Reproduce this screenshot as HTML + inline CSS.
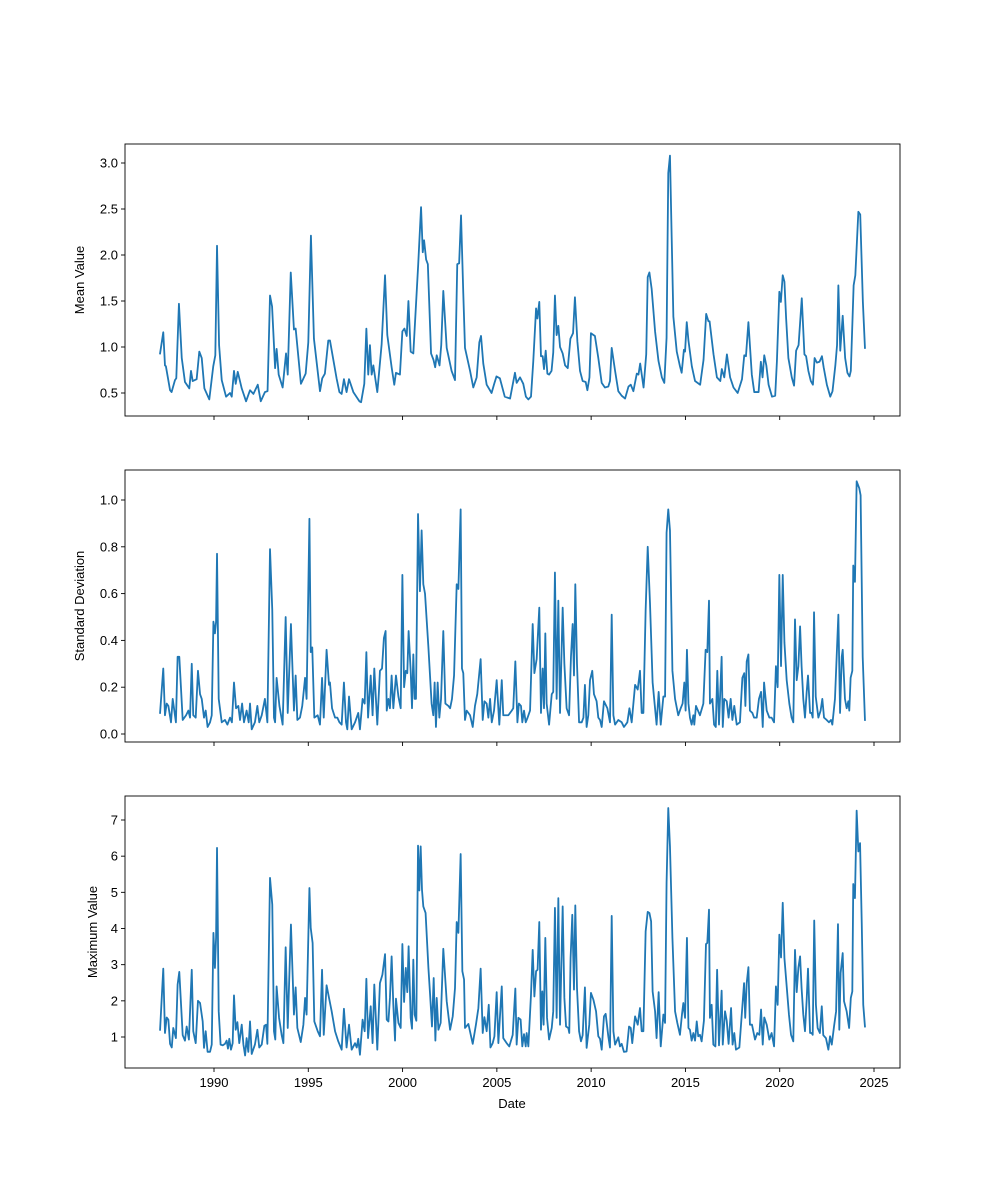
<!DOCTYPE html>
<html>
<head>
<meta charset="utf-8">
<style>
  html, body { margin: 0; padding: 0; background: #ffffff; }
  svg { display: block; font-family: "Liberation Sans", "DejaVu Sans", sans-serif; }
</style>
</head>
<body>
<svg id="chart" width="1000" height="1200" viewBox="0 0 1000 1200" xmlns="http://www.w3.org/2000/svg">
  <rect x="0" y="0" width="1000" height="1200" fill="#ffffff"/>
</svg>
<script>
// ---- data: [decimal year, value] ----
const meanSeries = [[1987.14,0.93],[1987.31,1.16],[1987.40,0.80],[1987.45,0.79],[1987.67,0.53],[1987.75,0.51],[1987.93,0.64],[1988.0,0.66],[1988.14,1.47],[1988.29,0.88],[1988.46,0.62],[1988.69,0.55],[1988.78,0.74],[1988.87,0.63],[1989.08,0.65],[1989.22,0.95],[1989.35,0.88],[1989.49,0.55],[1989.75,0.43],[1989.96,0.79],[1990.07,0.91],[1990.16,2.10],[1990.27,1.02],[1990.41,0.64],[1990.64,0.46],[1990.85,0.50],[1990.94,0.46],[1991.06,0.74],[1991.15,0.60],[1991.26,0.73],[1991.47,0.55],[1991.70,0.41],[1991.91,0.53],[1992.09,0.49],[1992.32,0.59],[1992.48,0.41],[1992.70,0.51],[1992.84,0.52],[1992.97,1.56],[1993.08,1.44],[1993.24,0.77],[1993.32,0.98],[1993.43,0.70],[1993.64,0.56],[1993.82,0.93],[1993.91,0.70],[1994.07,1.81],[1994.24,1.19],[1994.33,1.20],[1994.61,0.60],[1994.86,0.71],[1995.0,1.05],[1995.14,2.21],[1995.30,1.09],[1995.62,0.52],[1995.74,0.66],[1995.88,0.71],[1996.06,1.07],[1996.15,1.07],[1996.50,0.66],[1996.65,0.51],[1996.77,0.49],[1996.89,0.65],[1997.03,0.51],[1997.16,0.65],[1997.39,0.51],[1997.71,0.41],[1997.80,0.40],[1997.97,0.60],[1998.08,1.20],[1998.18,0.70],[1998.27,1.02],[1998.36,0.70],[1998.45,0.80],[1998.66,0.51],[1998.89,1.03],[1999.07,1.78],[1999.19,1.13],[1999.42,0.78],[1999.56,0.59],[1999.65,0.72],[1999.86,0.70],[1999.99,1.17],[2000.10,1.20],[2000.22,1.12],[2000.31,1.50],[2000.43,0.95],[2000.57,0.93],[2000.83,1.90],[2000.98,2.52],[2001.07,2.03],[2001.14,2.16],[2001.25,1.95],[2001.34,1.90],[2001.51,0.93],[2001.64,0.86],[2001.73,0.78],[2001.81,0.91],[2001.96,0.80],[2002.05,1.02],[2002.16,1.61],[2002.34,0.99],[2002.60,0.74],[2002.78,0.64],[2002.90,1.90],[2003.0,1.91],[2003.10,2.43],[2003.22,1.58],[2003.31,0.99],[2003.58,0.74],[2003.75,0.56],[2003.93,0.67],[2004.07,1.05],[2004.16,1.12],[2004.28,0.82],[2004.46,0.59],[2004.72,0.50],[2004.86,0.60],[2004.98,0.68],[2005.16,0.66],[2005.42,0.46],[2005.70,0.44],[2005.96,0.72],[2006.05,0.61],[2006.23,0.67],[2006.40,0.60],[2006.54,0.46],[2006.67,0.43],[2006.81,0.46],[2006.93,0.84],[2007.08,1.42],[2007.15,1.31],[2007.25,1.49],[2007.34,0.90],[2007.43,0.90],[2007.50,0.76],[2007.59,0.96],[2007.68,0.71],[2007.77,0.70],[2007.90,0.74],[2007.99,0.94],[2008.08,1.56],[2008.17,1.13],[2008.26,1.23],[2008.35,1.0],[2008.49,0.93],[2008.62,0.80],[2008.76,0.77],[2008.90,1.09],[2009.04,1.15],[2009.14,1.54],[2009.27,1.06],[2009.41,0.74],[2009.55,0.63],[2009.71,0.62],[2009.80,0.53],[2009.91,0.67],[2009.99,1.15],[2010.20,1.12],[2010.38,0.88],[2010.56,0.61],[2010.73,0.56],[2010.91,0.57],[2011.0,0.63],[2011.09,0.99],[2011.27,0.74],[2011.44,0.52],[2011.62,0.47],[2011.80,0.44],[2011.98,0.57],[2012.10,0.59],[2012.24,0.52],[2012.42,0.71],[2012.51,0.70],[2012.60,0.82],[2012.78,0.56],[2012.92,0.92],[2013.0,1.76],[2013.09,1.81],[2013.21,1.63],[2013.39,1.17],[2013.57,0.85],[2013.75,0.67],[2013.88,0.61],[2014.0,1.10],[2014.09,2.89],[2014.18,3.08],[2014.27,2.20],[2014.36,1.33],[2014.54,0.95],[2014.71,0.79],[2014.80,0.72],[2014.92,0.97],[2014.98,0.95],[2015.07,1.27],[2015.16,1.07],[2015.34,0.79],[2015.51,0.63],[2015.78,0.59],[2015.96,0.86],[2016.10,1.36],[2016.22,1.28],[2016.28,1.28],[2016.49,0.92],[2016.67,0.67],[2016.85,0.63],[2016.93,0.76],[2017.06,0.67],[2017.20,0.92],[2017.37,0.67],[2017.55,0.56],[2017.77,0.50],[2018.0,0.65],[2018.12,0.91],[2018.21,0.90],[2018.34,1.27],[2018.52,0.70],[2018.65,0.51],[2018.88,0.51],[2019.0,0.84],[2019.09,0.67],[2019.18,0.91],[2019.29,0.80],[2019.41,0.59],[2019.59,0.46],[2019.76,0.47],[2019.85,0.84],[2019.98,1.60],[2020.06,1.49],[2020.16,1.78],[2020.25,1.71],[2020.34,1.31],[2020.46,0.88],[2020.64,0.67],[2020.76,0.58],[2020.87,0.96],[2021.0,1.02],[2021.17,1.53],[2021.31,0.92],[2021.40,0.90],[2021.52,0.74],[2021.65,0.63],[2021.76,0.59],[2021.85,0.88],[2021.97,0.83],[2022.11,0.84],[2022.24,0.90],[2022.33,0.78],[2022.50,0.59],[2022.68,0.46],[2022.80,0.52],[2022.95,0.80],[2023.04,1.02],[2023.11,1.67],[2023.21,0.96],[2023.34,1.34],[2023.47,0.88],[2023.59,0.72],[2023.70,0.68],[2023.77,0.74],[2023.92,1.67],[2024.01,1.78],[2024.17,2.47],[2024.27,2.44],[2024.41,1.49],[2024.52,0.99]];

const stdSeries = [[1987.14,0.09],[1987.31,0.28],[1987.40,0.08],[1987.49,0.13],[1987.58,0.12],[1987.72,0.05],[1987.81,0.15],[1987.98,0.05],[1988.07,0.33],[1988.16,0.33],[1988.34,0.06],[1988.52,0.08],[1988.64,0.10],[1988.73,0.07],[1988.82,0.30],[1988.90,0.08],[1989.03,0.07],[1989.15,0.27],[1989.26,0.17],[1989.35,0.15],[1989.47,0.07],[1989.56,0.10],[1989.66,0.03],[1989.79,0.05],[1989.88,0.08],[1989.97,0.48],[1990.05,0.43],[1990.11,0.48],[1990.16,0.77],[1990.25,0.15],[1990.41,0.05],[1990.58,0.06],[1990.71,0.04],[1990.85,0.07],[1990.95,0.05],[1991.06,0.22],[1991.17,0.11],[1991.29,0.12],[1991.38,0.06],[1991.49,0.13],[1991.59,0.05],[1991.73,0.10],[1991.84,0.05],[1991.91,0.13],[1992.0,0.02],[1992.17,0.05],[1992.30,0.12],[1992.40,0.05],[1992.53,0.08],[1992.70,0.15],[1992.83,0.05],[1992.97,0.79],[1993.09,0.53],[1993.18,0.07],[1993.24,0.05],[1993.32,0.24],[1993.47,0.12],[1993.64,0.04],[1993.80,0.50],[1993.91,0.09],[1994.08,0.47],[1994.24,0.10],[1994.33,0.25],[1994.42,0.06],[1994.56,0.07],[1994.68,0.12],[1994.83,0.24],[1994.91,0.15],[1995.06,0.92],[1995.13,0.35],[1995.21,0.37],[1995.32,0.07],[1995.50,0.08],[1995.62,0.04],[1995.73,0.24],[1995.82,0.07],[1995.97,0.36],[1996.10,0.21],[1996.15,0.22],[1996.26,0.11],[1996.42,0.07],[1996.54,0.07],[1996.65,0.05],[1996.77,0.04],[1996.89,0.22],[1997.0,0.05],[1997.07,0.02],[1997.16,0.16],[1997.30,0.02],[1997.48,0.05],[1997.65,0.09],[1997.74,0.02],[1997.88,0.15],[1997.99,0.13],[1998.08,0.35],[1998.17,0.07],[1998.31,0.25],[1998.41,0.08],[1998.50,0.28],[1998.66,0.04],[1998.80,0.27],[1998.91,0.28],[1999.01,0.41],[1999.10,0.44],[1999.16,0.10],[1999.25,0.15],[1999.33,0.11],[1999.42,0.25],[1999.51,0.11],[1999.65,0.25],[1999.78,0.16],[1999.90,0.11],[1999.99,0.68],[2000.08,0.20],[2000.17,0.27],[2000.25,0.26],[2000.32,0.44],[2000.43,0.27],[2000.50,0.11],[2000.57,0.34],[2000.64,0.15],[2000.71,0.15],[2000.82,0.94],[2000.92,0.61],[2001.01,0.87],[2001.10,0.64],[2001.19,0.60],[2001.37,0.37],[2001.54,0.13],[2001.63,0.08],[2001.70,0.22],[2001.77,0.03],[2001.86,0.22],[2001.95,0.07],[2002.04,0.15],[2002.16,0.44],[2002.27,0.13],[2002.43,0.12],[2002.52,0.11],[2002.62,0.15],[2002.73,0.25],[2002.87,0.64],[2002.96,0.62],[2003.08,0.96],[2003.15,0.28],[2003.22,0.26],[2003.31,0.06],[2003.40,0.10],[2003.58,0.08],[2003.72,0.03],[2003.84,0.12],[2003.96,0.17],[2004.14,0.32],[2004.25,0.06],[2004.34,0.14],[2004.46,0.13],[2004.55,0.07],[2004.64,0.15],[2004.73,0.05],[2004.85,0.10],[2004.99,0.23],[2005.13,0.04],[2005.26,0.23],[2005.34,0.08],[2005.61,0.08],[2005.79,0.10],[2005.87,0.11],[2005.98,0.31],[2006.09,0.05],[2006.17,0.13],[2006.28,0.12],[2006.35,0.05],[2006.44,0.10],[2006.53,0.05],[2006.63,0.07],[2006.76,0.10],[2006.90,0.47],[2006.99,0.26],[2007.11,0.32],[2007.25,0.54],[2007.34,0.09],[2007.43,0.28],[2007.50,0.11],[2007.57,0.43],[2007.64,0.13],[2007.77,0.04],[2007.91,0.17],[2007.99,0.18],[2008.08,0.69],[2008.17,0.15],[2008.26,0.57],[2008.35,0.09],[2008.49,0.54],[2008.58,0.30],[2008.70,0.11],[2008.83,0.08],[2008.93,0.33],[2009.02,0.47],[2009.09,0.25],[2009.16,0.64],[2009.25,0.30],[2009.36,0.05],[2009.50,0.05],[2009.59,0.07],[2009.67,0.21],[2009.76,0.03],[2009.85,0.08],[2009.94,0.23],[2010.06,0.27],[2010.15,0.17],[2010.29,0.14],[2010.38,0.07],[2010.47,0.06],[2010.56,0.03],[2010.68,0.14],[2010.86,0.11],[2011.0,0.05],[2011.09,0.51],[2011.18,0.08],[2011.27,0.04],[2011.44,0.06],[2011.62,0.05],[2011.74,0.03],[2011.92,0.05],[2012.03,0.11],[2012.15,0.05],[2012.33,0.21],[2012.47,0.19],[2012.59,0.27],[2012.68,0.09],[2012.77,0.09],[2012.89,0.53],[2013.0,0.80],[2013.12,0.56],[2013.26,0.22],[2013.47,0.04],[2013.58,0.18],[2013.69,0.04],[2013.83,0.16],[2013.92,0.16],[2014.0,0.86],[2014.09,0.96],[2014.18,0.87],[2014.31,0.27],[2014.45,0.15],[2014.62,0.08],[2014.75,0.11],[2014.85,0.13],[2014.94,0.22],[2015.01,0.10],[2015.08,0.36],[2015.16,0.13],[2015.24,0.07],[2015.33,0.04],[2015.42,0.08],[2015.47,0.04],[2015.56,0.12],[2015.77,0.08],[2015.95,0.13],[2016.07,0.36],[2016.16,0.35],[2016.25,0.57],[2016.30,0.13],[2016.43,0.15],[2016.52,0.04],[2016.61,0.03],[2016.69,0.27],[2016.78,0.04],[2016.92,0.33],[2016.98,0.03],[2017.06,0.15],[2017.19,0.14],[2017.29,0.07],[2017.40,0.15],[2017.49,0.06],[2017.59,0.12],[2017.72,0.04],[2017.89,0.05],[2018.02,0.24],[2018.12,0.26],[2018.18,0.12],[2018.25,0.31],[2018.34,0.34],[2018.42,0.10],[2018.55,0.09],[2018.64,0.07],[2018.78,0.07],[2018.90,0.15],[2019.01,0.18],[2019.10,0.03],[2019.17,0.22],[2019.31,0.10],[2019.45,0.07],[2019.57,0.07],[2019.70,0.05],[2019.80,0.29],[2019.89,0.20],[2019.98,0.68],[2020.07,0.29],[2020.16,0.68],[2020.25,0.39],[2020.37,0.23],[2020.51,0.13],[2020.63,0.07],[2020.72,0.05],[2020.81,0.49],[2020.90,0.23],[2020.99,0.29],[2021.08,0.46],[2021.16,0.29],[2021.25,0.15],[2021.34,0.07],[2021.43,0.18],[2021.50,0.25],[2021.61,0.09],[2021.69,0.09],[2021.75,0.07],[2021.82,0.52],[2021.91,0.16],[2022.05,0.07],[2022.17,0.10],[2022.26,0.15],[2022.35,0.07],[2022.49,0.06],[2022.61,0.05],[2022.72,0.06],[2022.79,0.04],[2022.93,0.15],[2023.02,0.33],[2023.11,0.51],[2023.20,0.09],[2023.29,0.33],[2023.34,0.36],[2023.46,0.15],[2023.55,0.11],[2023.64,0.14],[2023.69,0.10],[2023.76,0.24],[2023.85,0.27],[2023.90,0.72],[2023.99,0.65],[2024.08,1.08],[2024.22,1.05],[2024.29,1.02],[2024.40,0.33],[2024.52,0.06]];

const maxSeries = [[1987.14,1.20],[1987.31,2.89],[1987.40,1.11],[1987.49,1.54],[1987.58,1.48],[1987.67,0.81],[1987.76,0.71],[1987.84,1.25],[1987.98,0.97],[1988.07,2.45],[1988.16,2.80],[1988.34,1.05],[1988.46,0.90],[1988.55,1.29],[1988.67,0.93],[1988.82,2.86],[1988.90,1.16],[1989.03,0.83],[1989.15,2.00],[1989.26,1.94],[1989.40,1.43],[1989.47,0.70],[1989.56,1.16],[1989.66,0.59],[1989.79,0.59],[1989.88,0.79],[1989.97,3.88],[1990.05,2.91],[1990.11,3.74],[1990.16,6.23],[1990.25,1.71],[1990.35,0.79],[1990.46,0.77],[1990.58,0.81],[1990.67,0.90],[1990.74,0.68],[1990.81,0.95],[1990.90,0.65],[1990.99,0.83],[1991.06,2.15],[1991.15,1.20],[1991.24,1.41],[1991.34,0.83],[1991.47,1.34],[1991.56,0.79],[1991.65,0.49],[1991.73,0.97],[1991.82,0.59],[1991.91,1.43],[1992.0,0.53],[1992.17,0.79],[1992.30,1.20],[1992.40,0.71],[1992.53,0.79],[1992.67,1.31],[1992.76,1.34],[1992.83,0.81],[1992.97,5.40],[1993.09,4.66],[1993.18,1.16],[1993.25,0.93],[1993.32,2.40],[1993.45,1.53],[1993.59,1.05],[1993.68,0.83],[1993.80,3.48],[1993.91,1.25],[1994.08,4.11],[1994.24,1.62],[1994.33,2.37],[1994.42,1.25],[1994.60,0.86],[1994.74,1.34],[1994.83,2.08],[1994.91,1.62],[1995.06,5.12],[1995.13,4.01],[1995.23,3.60],[1995.32,1.43],[1995.50,1.16],[1995.62,1.02],[1995.73,2.86],[1995.82,1.06],[1995.97,2.43],[1996.10,2.08],[1996.24,1.71],[1996.42,1.16],[1996.59,0.88],[1996.77,0.65],[1996.89,1.78],[1997.03,0.71],[1997.16,1.34],[1997.30,0.65],[1997.48,0.83],[1997.57,0.71],[1997.65,0.95],[1997.74,0.51],[1997.88,1.48],[1997.99,1.16],[1998.08,2.61],[1998.17,0.97],[1998.31,1.85],[1998.41,0.83],[1998.50,2.45],[1998.66,0.65],[1998.80,2.49],[1998.93,2.72],[1999.07,3.29],[1999.16,1.48],[1999.25,1.43],[1999.33,2.08],[1999.42,3.23],[1999.51,1.89],[1999.60,0.90],[1999.65,2.06],[1999.78,1.39],[1999.90,1.25],[1999.99,3.57],[2000.08,1.97],[2000.17,2.91],[2000.25,2.24],[2000.32,3.51],[2000.43,1.53],[2000.50,1.23],[2000.57,3.14],[2000.64,1.62],[2000.73,1.45],[2000.82,6.29],[2000.89,5.05],[2000.96,6.27],[2001.03,5.07],[2001.10,4.61],[2001.22,4.43],[2001.37,2.91],[2001.46,2.17],[2001.56,1.29],[2001.65,2.63],[2001.74,0.90],[2001.81,2.08],[2001.90,1.20],[2002.02,1.39],[2002.16,3.44],[2002.34,1.99],[2002.52,1.20],[2002.66,1.57],[2002.78,2.35],[2002.87,4.18],[2002.96,3.88],[2003.08,6.06],[2003.17,2.82],[2003.26,2.59],[2003.31,1.25],[2003.49,1.36],[2003.72,0.81],[2003.89,1.34],[2004.02,1.80],[2004.14,2.89],[2004.25,1.11],[2004.34,1.55],[2004.46,1.16],[2004.57,1.89],[2004.66,0.71],[2004.78,0.83],[2004.87,1.02],[2004.99,2.24],[2005.08,0.83],[2005.26,2.40],[2005.34,0.97],[2005.52,0.83],[2005.66,0.74],[2005.84,1.06],[2005.98,2.34],[2006.05,0.79],[2006.14,1.53],[2006.26,1.48],[2006.35,0.74],[2006.44,1.08],[2006.53,0.74],[2006.58,1.11],[2006.67,0.74],[2006.81,2.17],[2006.90,3.41],[2006.99,2.12],[2007.08,2.82],[2007.16,2.86],[2007.25,4.18],[2007.34,1.20],[2007.41,2.26],[2007.48,1.34],[2007.57,3.74],[2007.66,1.53],[2007.77,0.93],[2007.91,1.25],[2007.99,1.71],[2008.08,4.57],[2008.17,1.53],[2008.26,4.84],[2008.35,1.34],[2008.49,4.61],[2008.58,2.08],[2008.67,1.29],[2008.79,1.25],[2008.84,1.11],[2008.91,3.18],[2009.00,4.38],[2009.09,2.31],[2009.16,4.64],[2009.25,2.35],[2009.36,1.16],[2009.46,0.88],[2009.55,1.05],[2009.67,2.37],[2009.76,0.70],[2009.90,1.34],[2009.99,2.22],[2010.12,2.03],[2010.26,1.71],[2010.38,1.02],[2010.47,0.95],[2010.56,0.65],[2010.68,1.57],[2010.77,1.64],[2010.91,1.02],[2011.0,0.71],[2011.09,4.35],[2011.18,1.16],[2011.27,0.79],[2011.44,0.99],[2011.53,0.74],[2011.62,0.81],[2011.74,0.59],[2011.88,0.60],[2012.01,1.29],[2012.10,1.25],[2012.18,0.83],[2012.33,1.57],[2012.47,1.34],[2012.59,1.80],[2012.68,1.16],[2012.77,1.16],[2012.89,3.92],[2013.0,4.46],[2013.09,4.43],[2013.18,4.20],[2013.26,2.26],[2013.39,1.71],[2013.47,0.97],[2013.58,2.24],[2013.69,0.74],[2013.83,1.62],[2013.92,1.39],[2014.0,5.26],[2014.09,7.33],[2014.18,6.27],[2014.31,3.74],[2014.45,1.71],[2014.57,1.39],[2014.71,1.06],[2014.82,1.64],[2014.89,1.94],[2014.98,1.53],[2015.08,3.74],[2015.16,1.25],[2015.24,1.20],[2015.33,0.90],[2015.42,1.11],[2015.51,0.90],[2015.60,1.43],[2015.68,1.02],[2015.77,1.06],[2015.86,0.88],[2015.98,1.45],[2016.09,3.57],[2016.16,3.60],[2016.25,4.52],[2016.30,1.53],[2016.39,1.89],[2016.48,0.79],[2016.59,0.74],[2016.68,2.86],[2016.78,0.77],[2016.92,2.28],[2016.98,0.79],[2017.10,1.71],[2017.19,1.45],[2017.29,0.81],[2017.42,1.80],[2017.50,0.79],[2017.59,1.11],[2017.68,0.65],[2017.86,0.71],[2017.98,1.57],[2018.11,2.49],[2018.17,1.53],[2018.25,2.49],[2018.34,2.93],[2018.42,1.34],[2018.53,1.34],[2018.69,0.93],[2018.81,1.11],[2018.92,1.06],[2019.01,1.76],[2019.10,0.79],[2019.18,1.54],[2019.31,1.34],[2019.45,0.93],[2019.57,1.11],[2019.70,0.74],[2019.80,2.40],[2019.89,1.89],[2019.98,3.83],[2020.07,3.20],[2020.16,4.71],[2020.25,3.18],[2020.37,2.40],[2020.49,1.62],[2020.60,1.06],[2020.72,0.88],[2020.81,3.41],[2020.90,2.24],[2020.99,2.91],[2021.08,3.23],[2021.16,2.35],[2021.25,1.62],[2021.34,1.16],[2021.43,2.03],[2021.50,2.89],[2021.61,1.11],[2021.69,1.11],[2021.75,1.06],[2021.83,4.22],[2021.92,1.89],[2022.01,1.25],[2022.13,1.11],[2022.23,1.85],[2022.31,1.05],[2022.45,0.97],[2022.58,0.65],[2022.67,1.02],[2022.76,0.79],[2022.88,1.29],[2022.99,1.71],[2023.09,4.12],[2023.16,1.20],[2023.23,2.77],[2023.34,3.32],[2023.41,1.99],[2023.55,1.71],[2023.68,1.25],[2023.77,2.08],[2023.85,2.26],[2023.90,5.23],[2023.99,4.84],[2024.08,7.26],[2024.17,6.13],[2024.26,6.36],[2024.35,4.15],[2024.43,1.89],[2024.52,1.29]];

const xTickYears = [1990, 1995, 2000, 2005, 2010, 2015, 2020, 2025];
const meanTicks = [0.5, 1.0, 1.5, 2.0, 2.5, 3.0];
const meanTickLabels = ["0.5", "1.0", "1.5", "2.0", "2.5", "3.0"];
const stdTicks = [0.0, 0.2, 0.4, 0.6, 0.8, 1.0];
const stdTickLabels = ["0.0", "0.2", "0.4", "0.6", "0.8", "1.0"];
const maxTicks = [1, 2, 3, 4, 5, 6, 7];
const maxTickLabels = ["1", "2", "3", "4", "5", "6", "7"];

// ---- layout ----
const NS = "http://www.w3.org/2000/svg";
const svg = document.getElementById("chart");
const L = 125, R = 900;
function xScale(year) { return 214 + (year - 1990) * (660 / 35); }

const panels = [
  { key: "mean", top: 144, bottom: 416, data: meanSeries, ticks: meanTicks, labels: meanTickLabels,
    v0: 0.5, p0: 393, v1: 3.0, p1: 163, title: "Mean Value", titleX: 84 },
  { key: "std", top: 470, bottom: 742, data: stdSeries, ticks: stdTicks, labels: stdTickLabels,
    v0: 0.0, p0: 734, v1: 1.0, p1: 500, title: "Standard Deviation", titleX: 84 },
  { key: "max", top: 796, bottom: 1068, data: maxSeries, ticks: maxTicks, labels: maxTickLabels,
    v0: 1, p0: 1037, v1: 7, p1: 820, title: "Maximum Value", titleX: 97 }
];

function mk(tag, attrs) {
  const el = document.createElementNS(NS, tag);
  for (const k in attrs) el.setAttribute(k, attrs[k]);
  return el;
}

panels.forEach((p, idx) => {
  const yScale = v => p.p0 + (v - p.v0) * (p.p1 - p.p0) / (p.v1 - p.v0);
  const g = mk("g", {});
  
  
  svg.appendChild(g);

  const d = p.data.map((pt, i) => (i ? "L" : "M") + xScale(pt[0]).toFixed(2) + "," + yScale(pt[1]).toFixed(2)).join("");
  const path = mk("path", { d: d, fill: "none", stroke: "#1f77b4", "stroke-width": "1.8", "stroke-linejoin": "round", "stroke-linecap": "square" });
  
  
  g.appendChild(path);

  const frame = mk("rect", { x: L, y: p.top, width: R - L, height: p.bottom - p.top, fill: "none", stroke: "#000", "stroke-width": "0.9" });
  
  
  g.appendChild(frame);

  p.ticks.forEach((t, i) => {
    const y = yScale(t);
    const tk = mk("line", { x1: L - 4, x2: L, y1: y, y2: y, stroke: "#000", "stroke-width": "0.9" });
    
    
    g.appendChild(tk);
    const tx = mk("text", { x: L - 7, y: y + 4.5, "text-anchor": "end", "font-size": "13", fill: "#000" });
    tx.textContent = p.labels[i];
    
    
    g.appendChild(tx);
  });

  xTickYears.forEach(yr => {
    const x = xScale(yr);
    const tk = mk("line", { x1: x, x2: x, y1: p.bottom, y2: p.bottom + 4, stroke: "#000", "stroke-width": "0.9" });
    
    
    g.appendChild(tk);
    if (idx === 2) {
      const tx = mk("text", { x: x, y: p.bottom + 19, "text-anchor": "middle", "font-size": "13", fill: "#000" });
      tx.textContent = String(yr);
      
      
      g.appendChild(tx);
    }
  });

  const cy = (p.top + p.bottom) / 2;
  const yt = mk("text", { x: 0, y: 0, transform: "translate(" + p.titleX + "," + cy + ") rotate(-90)", "text-anchor": "middle", "font-size": "13", fill: "#000" });
  yt.textContent = p.title;
  
  
  g.appendChild(yt);
});

const xt = mk("text", { x: 512, y: 1108, "text-anchor": "middle", "font-size": "13", fill: "#000" });
xt.textContent = "Date";


svg.appendChild(xt);
</script>
</body>
</html>
